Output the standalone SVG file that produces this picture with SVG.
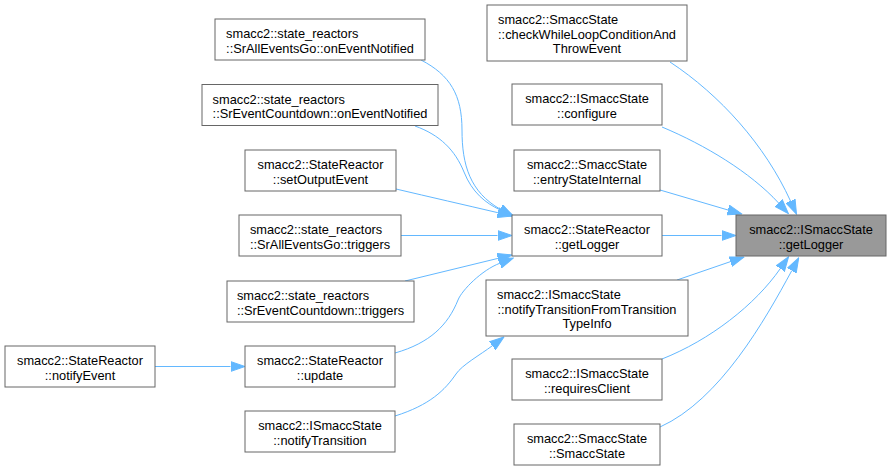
<svg xmlns="http://www.w3.org/2000/svg" width="891" height="471" viewBox="0 0 891 471">
<defs>
<style>
.node rect{fill:#ffffff;stroke:#666666;stroke-width:1}
.node.hl rect{fill:#999999}
.node text{font-family:"Liberation Sans",Arial,Helvetica,sans-serif;font-size:12.8px;fill:#000000}
.m{text-anchor:middle}
.s{text-anchor:start}
.edge path{fill:none;stroke:#63b8ff;stroke-width:1;marker-end:url(#arr)}
</style>
<marker id="arr" markerUnits="userSpaceOnUse" markerWidth="15" markerHeight="11" viewBox="0 -0.5 15 11" refX="0" refY="5" orient="auto">
<path d="M0,0 L14.5,5 L0,10 z" fill="#63b8ff" stroke="#63b8ff" stroke-width="1"/>
</marker>
</defs>
<rect x="0" y="0" width="891" height="471" fill="#ffffff"/>

<g id="edges" class="edge">
<path id="e1" d="M670,62 C720,95 765,145 790.5,201"/>
<path id="e2" d="M662,127 C705,145 750,172 778.6,203"/>
<path id="e3" d="M660,190 L728,210"/>
<path id="e4" d="M662,235.5 L721.5,235.5"/>
<path id="e5" d="M677,280 L730.3,261.7"/>
<path id="e6" d="M662,359 C710,340 755,305 780.3,268.6"/>
<path id="e7" d="M660,427 C720,400 765,320 791.8,270.6"/>
<path id="e8" d="M421,60 C450,75 462,95 462,130 C462,165 470,192 500.4,209.3"/>
<path id="e9" d="M415,126 C440,135 455,150 464,172 C472,192 485,203 500.4,210"/>
<path id="e10" d="M396,189 C430,197 465,205 497.9,212.7"/>
<path id="e11" d="M401,235.5 L497.5,235.5"/>
<path id="e12" d="M405,281 L497.9,258.4"/>
<path id="e13" d="M395,353 C430,343 448,325 458,300 C462,290 482,270 499.7,263.3"/>
<path id="e14" d="M155,366.5 L230.5,366.5"/>
<path id="e15" d="M395,416 C430,405 445,390 456,374 C462,365 480,355 492.4,345.7"/>
</g>

<g id="n_target" class="node hl">
<rect x="736" y="215" width="150" height="41"/>
<text class="m" x="811" y="234">smacc2::ISmaccState</text>
<text class="m" x="811" y="248.5">::getLogger</text>
</g>

<g id="n_checkWhile" class="node">
<rect x="487" y="5" width="200" height="56"/>
<text class="s" x="498" y="24">smacc2::SmaccState</text>
<text class="m" x="587" y="38.5">::checkWhileLoopConditionAnd</text>
<text class="m" x="587" y="53">ThrowEvent</text>
</g>

<g id="n_configure" class="node">
<rect x="512" y="84" width="150" height="41"/>
<text class="m" x="587" y="103">smacc2::ISmaccState</text>
<text class="m" x="587" y="117.5">::configure</text>
</g>

<g id="n_entry" class="node">
<rect x="514" y="150" width="146" height="41"/>
<text class="m" x="587" y="169">smacc2::SmaccState</text>
<text class="m" x="587" y="183.5">::entryStateInternal</text>
</g>

<g id="n_srGetLogger" class="node">
<rect x="512" y="215" width="150" height="41"/>
<text class="m" x="587" y="234">smacc2::StateReactor</text>
<text class="m" x="587" y="248.5">::getLogger</text>
</g>

<g id="n_notifyTFT" class="node">
<rect x="486" y="280" width="202" height="56"/>
<text class="s" x="497" y="299">smacc2::ISmaccState</text>
<text class="m" x="587" y="313.5">::notifyTransitionFromTransition</text>
<text class="m" x="587" y="328">TypeInfo</text>
</g>

<g id="n_requiresClient" class="node">
<rect x="512" y="359" width="150" height="41"/>
<text class="m" x="587" y="378">smacc2::ISmaccState</text>
<text class="m" x="587" y="392.5">::requiresClient</text>
</g>

<g id="n_smaccState" class="node">
<rect x="514" y="424" width="146" height="41"/>
<text class="m" x="587" y="443">smacc2::SmaccState</text>
<text class="m" x="587" y="457.5">::SmaccState</text>
</g>

<g id="n_allOnEvent" class="node">
<rect x="215" y="19" width="210" height="41"/>
<text class="s" x="226.1" y="38">smacc2::state_reactors</text>
<text class="m" x="320" y="52.5">::SrAllEventsGo::onEventNotified</text>
</g>

<g id="n_countOnEvent" class="node">
<rect x="202" y="84.5" width="236" height="41"/>
<text class="s" x="212.6" y="103.5">smacc2::state_reactors</text>
<text class="m" x="320" y="118">::SrEventCountdown::onEventNotified</text>
</g>

<g id="n_setOutput" class="node">
<rect x="245" y="150" width="151" height="41"/>
<text class="m" x="320.5" y="169">smacc2::StateReactor</text>
<text class="m" x="320.5" y="183.5">::setOutputEvent</text>
</g>

<g id="n_allTriggers" class="node">
<rect x="239" y="215" width="162" height="41"/>
<text class="s" x="249.9" y="234">smacc2::state_reactors</text>
<text class="m" x="320" y="248.5">::SrAllEventsGo::triggers</text>
</g>

<g id="n_countTriggers" class="node">
<rect x="227" y="281" width="187" height="41"/>
<text class="s" x="236.9" y="300">smacc2::state_reactors</text>
<text class="m" x="320.5" y="314.5">::SrEventCountdown::triggers</text>
</g>

<g id="n_update" class="node">
<rect x="245" y="346" width="150" height="41"/>
<text class="m" x="320" y="365">smacc2::StateReactor</text>
<text class="m" x="320" y="379.5">::update</text>
</g>

<g id="n_notifyTransition" class="node">
<rect x="245" y="411" width="150" height="41"/>
<text class="m" x="320" y="430">smacc2::ISmaccState</text>
<text class="m" x="320" y="444.5">::notifyTransition</text>
</g>

<g id="n_notifyEvent" class="node">
<rect x="5" y="346" width="150" height="41"/>
<text class="m" x="80" y="365">smacc2::StateReactor</text>
<text class="m" x="80" y="379.5">::notifyEvent</text>
</g>
</svg>
